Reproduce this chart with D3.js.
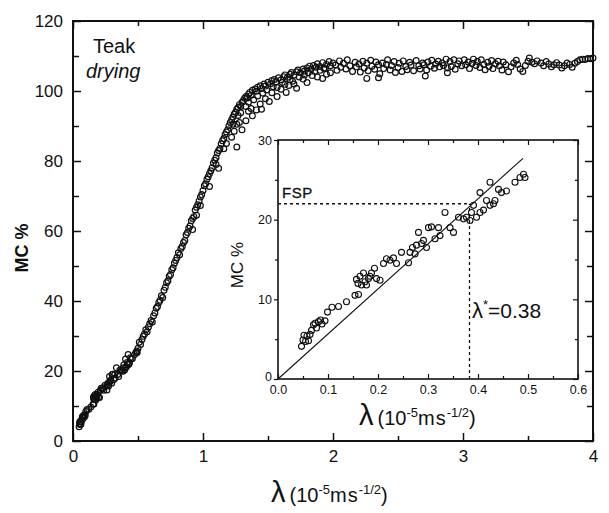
<!DOCTYPE html>
<html>
<head>
<meta charset="utf-8">
<script src="https://cdn.jsdelivr.net/npm/d3@7"></script>
<style>
  body { margin: 0; background: #fff; }
  text { font-family: "Liberation Sans", Arial, sans-serif; fill: #111; }
</style>
</head>
<body>
<svg id="chart" width="609" height="513"></svg>
<script>
// ---------- data (λ in 1e-5 m s^-1/2, MC in %) ----------
// early part of the drying curve, also shown in the inset
const insetPts = [
  [0.047,4.1],[0.050,4.9],[0.052,5.5],[0.055,4.7],[0.058,5.4],[0.061,4.8],[0.064,5.6],[0.067,6.1],
  [0.071,6.8],[0.074,7.0],[0.077,6.4],[0.081,7.2],[0.085,7.4],[0.088,6.9],[0.094,7.3],[0.099,8.4],
  [0.108,9.0],[0.121,9.1],[0.137,9.7],[0.154,10.5],[0.161,10.6],[0.157,12.5],[0.160,12.0],[0.164,12.9],
  [0.167,11.8],[0.171,13.3],[0.174,12.2],[0.177,11.8],[0.181,12.6],[0.184,12.9],[0.187,13.3],[0.193,13.9],
  [0.197,12.6],[0.204,12.4],[0.211,14.5],[0.217,15.1],[0.224,14.9],[0.231,15.2],[0.237,14.5],[0.247,15.9],
  [0.261,14.6],[0.264,15.9],[0.269,16.5],[0.274,15.7],[0.277,16.8],[0.281,18.4],[0.287,17.0],[0.291,17.4],
  [0.297,16.5],[0.301,19.0],[0.307,19.1],[0.314,17.6],[0.321,19.0],[0.324,18.0],[0.334,20.9],[0.344,19.0],
  [0.351,18.4],[0.361,20.3],[0.371,20.1],[0.377,20.3],[0.384,19.9],[0.387,20.9],[0.391,21.8],[0.397,20.3],
  [0.404,20.9],[0.404,23.4],[0.411,21.2],[0.417,22.4],[0.424,24.7],[0.424,21.8],[0.431,22.0],[0.434,22.4],
  [0.441,23.8],[0.447,23.4],[0.457,23.6],[0.474,24.7],[0.484,25.3],[0.491,25.7],[0.494,25.3]
];

// steep rise and knee
const curvePts = [
  [0.50,26.5],[0.51,28.2],[0.52,27.6],[0.53,29.0],[0.54,29.9],[0.55,30.6],[0.56,31.8],[0.57,31.2],
  [0.58,32.6],[0.59,33.5],[0.60,34.4],[0.61,34.0],[0.62,35.8],[0.63,36.6],[0.64,37.9],[0.65,38.4],
  [0.66,39.6],[0.67,40.2],[0.68,41.5],[0.69,41.0],[0.70,43.1],[0.71,43.9],[0.72,45.2],[0.73,45.8],
  [0.74,47.1],[0.75,47.6],[0.76,48.9],[0.77,49.5],[0.78,50.8],[0.79,51.6],[0.80,52.4],[0.81,53.8],
  [0.82,53.2],[0.83,55.0],[0.84,55.6],[0.85,56.7],[0.86,57.3],[0.87,58.9],[0.88,59.6],[0.89,60.8],
  [0.90,61.4],[0.91,62.9],[0.92,63.6],[0.93,64.1],[0.94,66.0],[0.95,66.8],[0.96,67.5],[0.97,68.6],
  [0.98,69.7],[0.99,70.4],[1.00,71.6],[1.01,72.9],[1.02,73.5],[1.03,74.8],[1.04,75.5],[1.05,76.4],
  [1.06,77.2],[1.07,78.1],[1.08,79.4],[1.09,80.2],[1.10,80.9],[1.11,82.3],[1.12,83.0],[1.13,83.6],
  [1.14,84.9],[1.15,85.8],[1.16,86.4],[1.17,87.6],[1.18,88.3],[1.19,88.9],[1.20,90.1],
  [0.92,60.4],[0.95,64.5],[0.98,67.3],[1.05,72.7],[1.12,77.9],[1.10,79.0],[1.16,83.5],[1.18,85.0],
  [1.26,84.0],[1.22,86.8],
  // upper edge of the knee
  [1.21,91.0],[1.22,91.8],[1.23,92.6],[1.24,93.4],[1.25,93.9],[1.26,94.8],[1.27,95.3],[1.28,96.1],
  [1.29,95.6],[1.30,96.8],[1.31,97.3],[1.32,97.9],[1.33,98.4],[1.34,98.0],[1.35,99.1],[1.36,99.6],
  [1.37,98.8],[1.38,100.2],[1.40,100.6],[1.41,99.9],[1.42,101.1],[1.44,101.5],[1.45,100.7],[1.47,102.0],
  [1.48,101.4],[1.50,102.5],[1.52,102.1],[1.53,103.0],[1.55,103.3],[1.56,102.6],[1.58,103.8],[1.60,103.2],
  [1.62,104.1],[1.63,104.6],[1.65,103.9],[1.67,104.8],[1.68,105.3],[1.70,104.6],[1.72,105.5],[1.73,106.0],
  [1.75,105.2],[1.77,106.3],[1.78,105.7],[1.80,106.6],[1.82,107.1],[1.83,106.2],[1.85,107.3],[1.87,106.8],
  [1.88,107.8],[1.90,107.0],[1.92,108.1],[1.93,106.5],[1.95,107.6],[1.97,108.4],[1.98,107.2],[2.00,108.0],
  // middle of the band
  [1.23,90.5],[1.27,93.0],[1.29,93.8],[1.33,95.6],[1.35,96.8],[1.39,97.5],[1.42,98.6],[1.46,99.4],
  [1.49,100.3],[1.54,101.2],[1.57,101.0],[1.61,102.4],[1.63,101.9],[1.67,103.2],[1.69,102.8],[1.74,104.0],
  [1.78,104.6],[1.81,105.2],[1.86,105.6],[1.90,105.9],[1.94,106.4],
  // lower scatter
  [1.24,88.5],[1.26,90.5],[1.28,91.0],[1.30,88.9],[1.33,91.5],[1.35,94.2],[1.37,95.0],[1.38,92.9],
  [1.41,94.6],[1.44,96.3],[1.45,94.8],[1.48,97.8],[1.51,97.0],[1.53,99.5],[1.57,98.4],[1.60,100.5],
  [1.64,99.6],[1.66,101.6],[1.70,102.0],[1.72,100.8],[1.77,103.4],[1.80,102.4],[1.84,104.4],[1.88,104.0],
  [1.92,103.6],[1.95,104.8],[1.98,105.2]
];

// plateau
const plateauPts = [
  [2.02,107.4],[2.03,105.9],[2.05,108.6],[2.06,106.8],[2.08,107.9],[2.10,106.3],[2.11,108.9],[2.13,107.2],
  [2.15,105.6],[2.17,108.2],[2.18,106.9],[2.20,107.7],[2.21,105.4],[2.23,108.5],[2.24,106.6],[2.26,103.6],
  [2.26,107.9],[2.27,105.8],[2.29,108.8],[2.30,107.1],[2.32,106.2],[2.33,108.3],[2.35,103.8],[2.35,107.5],
  [2.36,104.9],[2.38,108.0],[2.39,106.4],[2.41,107.6],[2.42,108.9],[2.44,106.0],[2.45,107.3],[2.47,108.4],
  [2.48,105.3],[2.50,106.7],[2.51,107.9],[2.53,105.6],[2.54,108.6],[2.56,107.0],[2.57,106.1],[2.59,108.2],
  [2.60,107.4],[2.62,105.8],[2.64,108.7],[2.66,107.2],[2.67,106.3],[2.69,108.0],[2.70,107.5],[2.71,104.3],
  [2.72,106.0],[2.73,108.3],[2.75,107.1],[2.76,108.8],[2.78,106.5],[2.79,107.7],[2.81,108.5],[2.82,106.9],
  [2.84,108.0],[2.85,107.3],[2.87,109.1],[2.88,105.2],[2.88,106.6],[2.90,108.4],[2.91,107.0],[2.93,108.9],
  [2.94,106.2],[2.96,107.8],[2.97,108.6],[2.99,107.2],
  [3.01,108.9],[3.02,107.5],[3.04,108.3],[3.05,106.4],[3.07,107.9],[3.08,109.1],[3.10,107.3],[3.11,108.4],
  [3.13,106.7],[3.14,108.9],[3.16,107.6],[3.17,106.1],[3.19,108.2],[3.20,107.0],[3.22,108.7],[3.23,106.4],
  [3.25,107.8],[3.27,108.5],[3.28,107.2],[3.30,106.0],[3.31,108.3],[3.33,107.5],[3.35,105.5],[3.37,106.9],
  [3.39,108.0],[3.41,108.8],[3.42,107.6],[3.44,106.3],[3.46,105.6],[3.48,107.3],[3.50,108.5],[3.51,109.4],
  [3.53,108.2],[3.55,107.8],[3.57,108.6],[3.60,108.0],[3.62,107.2],[3.64,108.4],[3.66,107.7],[3.68,106.9],
  [3.70,107.5],[3.72,108.1],[3.74,107.4],[3.76,106.6],[3.78,107.2],[3.80,108.0],[3.82,107.6],[3.84,106.8],
  [3.86,107.9],[3.88,108.4],[3.90,108.9],[3.92,109.1],[3.94,109.0],[3.96,109.3],[3.98,109.2],[4.00,109.4]
];

// inset fit line and FSP marker
const fitLine = [[0, 0], [0.49, 27.7]];
const fspMC = 22;
const lambdaStar = 0.383;

// tick values
const mainXMajor = [0, 1, 2, 3, 4];
const mainXMinor = [0.5, 1.5, 2.5, 3.5];
const mainYMajor = [0, 20, 40, 60, 80, 100, 120];
const mainYMinor = [10, 30, 50, 70, 90, 110];
const insXMajor = [0, 0.1, 0.2, 0.3, 0.4, 0.5, 0.6];
const insXMinor = [0.05, 0.15, 0.25, 0.35, 0.45, 0.55];
const insYMajor = [0, 10, 20, 30];
const insYMinor = [5, 15, 25];

// ---------- scales ----------
const svg = d3.select("#chart");
const FONT = '"Liberation Sans", Arial, sans-serif';

const xMain = d3.scaleLinear().domain([0, 4]).range([73, 593]);
const yMain = d3.scaleLinear().domain([0, 120]).range([441, 21]);
const xIns = d3.scaleLinear().domain([0, 0.6]).range([278, 578]);
const yIns = d3.scaleLinear().domain([0, 30]).range([379, 140]);

function addAxis(gen, tx, ty, values, size, fmt, pad, fontSize, sw) {
  const a = svg.append("g")
    .attr("transform", `translate(${tx},${ty})`)
    .call(gen.tickValues(values).tickSize(size).tickSizeOuter(0).tickPadding(pad).tickFormat(fmt));
  a.select(".domain").remove();
  a.selectAll("line").attr("stroke", "#111").attr("stroke-width", sw);
  a.selectAll("text").attr("font-size", fontSize).attr("font-family", FONT).attr("fill", "#111");
  return a;
}

/* ---------- main plot ---------- */
const blank = () => "";
addAxis(d3.axisBottom(xMain), 0, 441, mainXMajor, -8, d3.format("d"), 9, 17, 1.5);
addAxis(d3.axisBottom(xMain), 0, 441, mainXMinor, -5, blank, 9, 17, 1.5);
addAxis(d3.axisTop(xMain), 0, 21, mainXMajor, -8, blank, 3, 17, 1.5);
addAxis(d3.axisTop(xMain), 0, 21, mainXMinor, -5, blank, 3, 17, 1.5);
addAxis(d3.axisLeft(yMain), 73, 0, mainYMajor, -8, d3.format("d"), 10, 17, 1.5);
addAxis(d3.axisLeft(yMain), 73, 0, mainYMinor, -6, blank, 10, 17, 1.5);
addAxis(d3.axisRight(yMain), 593, 0, mainYMajor, -8, blank, 3, 17, 1.5);
addAxis(d3.axisRight(yMain), 593, 0, mainYMinor, -6, blank, 3, 17, 1.5);

svg.append("rect")
  .attr("x", xMain(0)).attr("y", yMain(120))
  .attr("width", xMain(4) - xMain(0)).attr("height", yMain(0) - yMain(120))
  .attr("fill", "none").attr("stroke", "#111").attr("stroke-width", 2);

const allPts = insetPts.concat(curvePts, plateauPts);
svg.append("g").selectAll("circle")
  .data(allPts).join("circle")
  .attr("cx", d => xMain(d[0]))
  .attr("cy", d => yMain(d[1]))
  .attr("r", 2.9)
  .attr("fill", "none")
  .attr("stroke", "#111")
  .attr("stroke-width", 1.2);

svg.append("text").attr("x", 93).attr("y", 53).attr("font-size", 20).text("Teak");
svg.append("text").attr("x", 86).attr("y", 78).attr("font-size", 20)
  .attr("font-style", "italic").text("drying");

svg.append("text")
  .attr("transform", "translate(28,248) rotate(-90)")
  .attr("text-anchor", "middle").attr("font-size", 18).attr("font-weight", "bold")
  .text("MC %");

// λ (10^-5 m s^-1/2) axis title, built from tspans
function lambdaTitle(x, y) {
  const t = svg.append("text").attr("x", x).attr("y", y);
  t.append("tspan").attr("font-size", 29).text("λ");
  t.append("tspan").attr("font-size", 20).attr("dx", 4).text("(10");
  t.append("tspan").attr("font-size", 13).attr("dy", -8).text("-5");
  t.append("tspan").attr("font-size", 20).attr("dy", 8).attr("letter-spacing", 1).text("ms");
  t.append("tspan").attr("font-size", 13).attr("dy", -8).text("-1/2");
  t.append("tspan").attr("font-size", 20).attr("dy", 8).text(")");
}
lambdaTitle(271, 502);

/* ---------- inset ---------- */
svg.append("rect")
  .attr("x", xIns(0)).attr("y", yIns(30))
  .attr("width", xIns(0.6) - xIns(0)).attr("height", yIns(0) - yIns(30))
  .attr("fill", "#fff");

addAxis(d3.axisBottom(xIns), 0, 379, insXMajor, -5, d3.format(".1f"), 6, 12.5, 1.2);
addAxis(d3.axisBottom(xIns), 0, 379, insXMinor, -3, blank, 6, 12.5, 1.2);
addAxis(d3.axisTop(xIns), 0, 140, insXMajor, -5, blank, 3, 12.5, 1.2);
addAxis(d3.axisTop(xIns), 0, 140, insXMinor, -3, blank, 3, 12.5, 1.2);
const insLeft = addAxis(d3.axisLeft(yIns), 278, 0, insYMajor, 4, d3.format("d"), 2, 12.5, 1.2);
insLeft.selectAll("text").filter(d => d === 0).attr("dy", "0.1em");
addAxis(d3.axisLeft(yIns), 278, 0, insYMinor, 3, blank, 2, 12.5, 1.2);
addAxis(d3.axisRight(yIns), 578, 0, insYMajor, -5, blank, 3, 12.5, 1.2);
addAxis(d3.axisRight(yIns), 578, 0, insYMinor, -3, blank, 3, 12.5, 1.2);

svg.append("rect")
  .attr("x", xIns(0)).attr("y", yIns(30))
  .attr("width", xIns(0.6) - xIns(0)).attr("height", yIns(0) - yIns(30))
  .attr("fill", "none").attr("stroke", "#111").attr("stroke-width", 1.6);

const insLine = d3.line().x(d => xIns(d[0])).y(d => yIns(d[1]));

svg.append("path").datum(fitLine)
  .attr("d", insLine).attr("fill", "none").attr("stroke", "#111").attr("stroke-width", 1.1);

svg.append("path").datum([[0, fspMC], [lambdaStar, fspMC]])
  .attr("d", insLine).attr("fill", "none").attr("stroke", "#111")
  .attr("stroke-width", 1.3).attr("stroke-dasharray", "3,3");
svg.append("path").datum([[lambdaStar, 0], [lambdaStar, fspMC]])
  .attr("d", insLine).attr("fill", "none").attr("stroke", "#111")
  .attr("stroke-width", 1.3).attr("stroke-dasharray", "3,3");

svg.append("g").selectAll("circle")
  .data(insetPts).join("circle")
  .attr("cx", d => xIns(d[0]))
  .attr("cy", d => yIns(d[1]))
  .attr("r", 3)
  .attr("fill", "none")
  .attr("stroke", "#111")
  .attr("stroke-width", 1.1);

svg.append("text").attr("x", 282).attr("y", 198).attr("font-size", 15)
  .attr("letter-spacing", 0.5).attr("stroke", "#111").attr("stroke-width", 0.3).text("FSP");

const ls = svg.append("text").attr("x", 472).attr("y", 318);
ls.append("tspan").attr("font-size", 22).text("λ");
ls.append("tspan").attr("font-size", 13).attr("dy", -9).text("*");
ls.append("tspan").attr("font-size", 21).attr("dy", 9).text("=0.38");

svg.append("text")
  .attr("transform", "translate(243,265) rotate(-90)")
  .attr("text-anchor", "middle").attr("font-size", 17)
  .text("MC %");

lambdaTitle(359, 425);
</script>
</body>
</html>
